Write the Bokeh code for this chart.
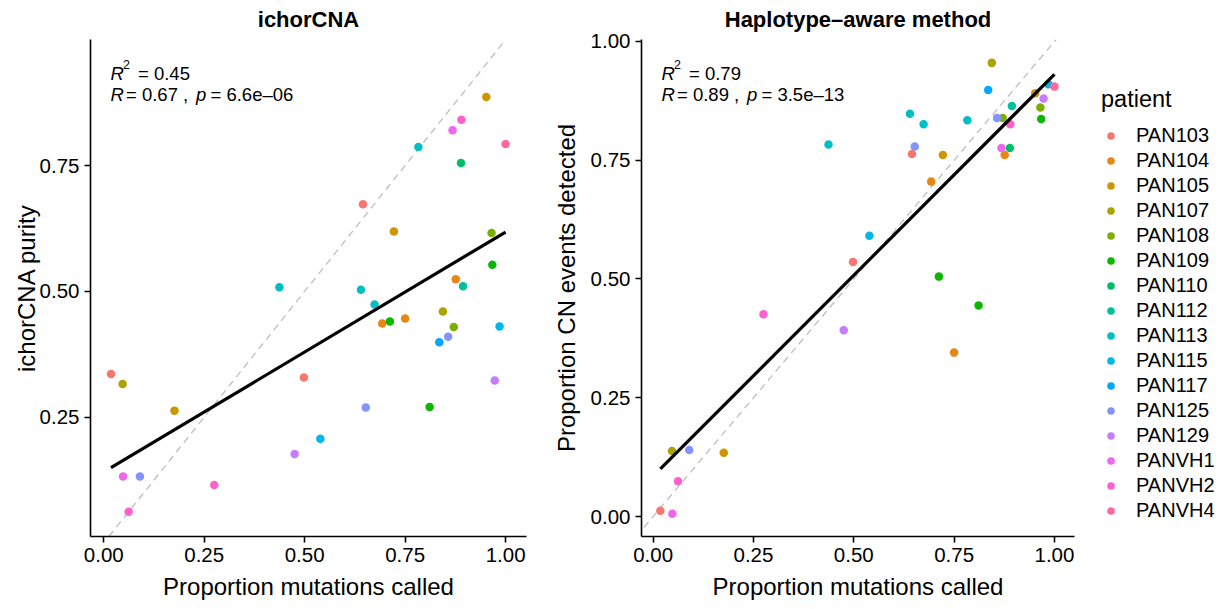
import math
import numpy as np
from bokeh.plotting import figure
from bokeh.models import Range1d, FixedTicker, Slope, Label, Legend, LegendItem, ColumnDataSource
from bokeh.layouts import row
from bokeh.embed import file_html
from bokeh.resources import INLINE

# ---------------- data ----------------
patients = ["PAN103", "PAN104", "PAN105", "PAN107", "PAN108", "PAN109", "PAN110", "PAN112",
            "PAN113", "PAN115", "PAN117", "PAN125", "PAN129", "PANVH1", "PANVH2", "PANVH4"]

sample_patient = ["PAN105", "PANVH2", "PANVH1", "PANVH4", "PAN113", "PAN110", "PAN103", "PAN105",
                  "PAN108", "PAN109", "PAN113", "PAN113", "PAN104", "PAN112", "PAN113", "PAN107",
                  "PAN104", "PAN109", "PAN104", "PAN108", "PAN115", "PAN117", "PAN125", "PAN103",
                  "PAN107", "PAN103", "PAN129", "PAN105", "PAN125", "PAN109", "PAN115", "PAN129",
                  "PANVH1", "PAN125", "PANVH2", "PANVH2"]

prop_mutations_called = [0.952, 0.890, 0.868, 1.000, 0.783, 0.889, 0.645, 0.722,
                         0.965, 0.967, 0.437, 0.640, 0.876, 0.894, 0.674, 0.844,
                         0.693, 0.712, 0.750, 0.871, 0.985, 0.835, 0.857, 0.018,
                         0.047, 0.498, 0.973, 0.176, 0.652, 0.811, 0.539, 0.475,
                         0.048, 0.090, 0.275, 0.062]

ichorcna_purity = [0.886, 0.841, 0.820, 0.793, 0.787, 0.755, 0.673, 0.619,
                   0.616, 0.553, 0.508, 0.503, 0.524, 0.510, 0.474, 0.460,
                   0.436, 0.440, 0.446, 0.429, 0.430, 0.399, 0.410, 0.336,
                   0.316, 0.329, 0.323, 0.263, 0.269, 0.270, 0.207, 0.177,
                   0.132, 0.132, 0.115, 0.062]

prop_cn_detected = [0.891, 0.826, 0.776, 0.905, 0.834, 0.776, 0.763, 0.761,
                    0.861, 0.837, 0.783, 0.848, 0.761, 0.864, 0.826, 0.955,
                    0.705, 0.505, 0.345, 0.839, 0.910, 0.898, 0.839, 0.012,
                    0.138, 0.536, 0.880, 0.134, 0.779, 0.444, 0.591, 0.392,
                    0.006, 0.140, 0.426, 0.074]

x_ticks = [0.0, 0.25, 0.5, 0.75, 1.0]
x_tick_labels = ["0.00", "0.25", "0.50", "0.75", "1.00"]
left_y_ticks = [0.25, 0.5, 0.75]
left_y_tick_labels = ["0.25", "0.50", "0.75"]
right_y_ticks = [0.0, 0.25, 0.5, 0.75, 1.0]
right_y_tick_labels = ["0.00", "0.25", "0.50", "0.75", "1.00"]

left_stats = ["0.45", "0.67", "6.6e\u201306"]
right_stats = ["0.79", "0.89", "3.5e\u201313"]

FONT = "Liberation Sans"


# ggplot2 default hue palette (hcl, c=100, l=65)
def hcl_hex(h, c=100.0, l=65.0):
    WX, WY, WZ = 95.047, 100.000, 108.883
    den = WX + 15 * WY + 3 * WZ
    un, vn = 4 * WX / den, 9 * WY / den
    hr = math.radians(h)
    U, V = c * math.cos(hr), c * math.sin(hr)
    Y = WY * ((l + 16) / 116) ** 3 if l > 7.999592 else WY * l / 903.3
    u = U / (13 * l) + un
    v = V / (13 * l) + vn
    X = 9.0 * Y * u / (4 * v)
    Z = -X / 3 - 5 * Y + 3 * Y / v

    def g(t):
        return 1.055 * t ** (1 / 2.4) - 0.055 if t > 0.00304 else 12.92 * t

    rgb = [g((3.240479 * X - 1.537150 * Y - 0.498535 * Z) / WY),
           g((-0.969256 * X + 1.875992 * Y + 0.041556 * Z) / WY),
           g((0.055648 * X - 0.204043 * Y + 1.057311 * Z) / WY)]
    rgb = [min(1.0, max(0.0, c_)) for c_ in rgb]
    return "#%02X%02X%02X" % tuple(int(round(255 * c_)) for c_ in rgb)


n_pat = len(patients)
palette = [hcl_hex(15 + 360.0 * i / n_pat) for i in range(n_pat)]
color_of = dict(zip(patients, palette))

x_arr = np.array(prop_mutations_called)


def style_axes(p, ylab_standoff):
    p.outline_line_color = None
    p.xgrid.visible = False
    p.ygrid.visible = False
    for ax in (p.xaxis[0], p.yaxis[0]):
        ax.axis_line_color = "black"
        ax.axis_line_width = 1.6
        ax.major_tick_line_color = "black"
        ax.major_tick_line_width = 1.6
        ax.major_tick_out = 6
        ax.major_tick_in = 0
        ax.minor_tick_line_color = None
        ax.major_label_text_font = FONT
        ax.major_label_text_font_size = "20.5px"
        ax.major_label_text_color = "black"
        ax.axis_label_text_font = FONT
        ax.axis_label_text_font_size = "24px"
        ax.axis_label_text_font_style = "normal"
        ax.axis_label_text_color = "black"
        ax.major_label_standoff = 5
    p.xaxis[0].axis_label_standoff = 8
    p.yaxis[0].axis_label_standoff = ylab_standoff


def add_stats(p, xr, yr, stats):
    common = dict(x=xr[0], y=yr[1], text_font=FONT, text_color="black",
                  text_baseline="alphabetic", text_align="left")
    r2, r, pv = stats
    pieces = [
        ("R", 20, -34, "18.5px", "italic"),
        ("2", 32.5, -25, "12.5px", "normal"),
        ("= " + r2, 47.5, -34, "18.5px", "normal"),
        ("R", 20, -55, "18.5px", "italic"),
        ("= " + r + " ,", 35.5, -55, "18.5px", "normal"),
        ("p", 105.5, -55, "18.5px", "italic"),
        ("= " + pv, 120, -55, "18.5px", "normal"),
    ]
    for txt, xo, yo, fs, st in pieces:
        p.add_layout(Label(text=txt, x_offset=xo, y_offset=yo, text_font_size=fs,
                           text_font_style=st, **common))


def make_panel(yvals, xr, yr, frame_w, mb_left, mb_right, ylabel, yticks, ytick_labels,
               ylab_standoff, title, stats):
    p = figure(frame_width=frame_w, frame_height=497,
               x_range=Range1d(*xr), y_range=Range1d(*yr),
               output_backend="svg", toolbar_location=None,
               min_border_left=mb_left, min_border_right=mb_right,
               min_border_top=39, min_border_bottom=70)
    p.title.text = title
    p.title.align = "center"
    p.title.vertical_align = "top"
    p.title.text_font = FONT
    p.title.text_font_size = "22px"
    p.title.text_font_style = "bold"
    p.title.text_color = "black"
    p.title.standoff = 11

    p.xaxis.ticker = FixedTicker(ticks=x_ticks)
    p.xaxis.major_label_overrides = dict(zip(x_ticks, x_tick_labels))
    p.yaxis.ticker = FixedTicker(ticks=yticks)
    p.yaxis.major_label_overrides = dict(zip(yticks, ytick_labels))
    p.xaxis.axis_label = "Proportion mutations called"
    p.yaxis.axis_label = ylabel
    style_axes(p, ylab_standoff)

    p.add_layout(Slope(gradient=1, y_intercept=0, line_color="#BEBEBE",
                       line_dash="7 5", line_width=1.3, level="underlay"))

    y_arr = np.array(yvals)
    renderers = {}
    for pt in patients:
        idx = [i for i, s in enumerate(sample_patient) if s == pt]
        src = ColumnDataSource(dict(x=x_arr[idx], y=y_arr[idx]))
        renderers[pt] = p.scatter("x", "y", source=src, size=8.5, marker="circle",
                                  fill_color=color_of[pt], line_color=None)

    slope, intercept = np.polyfit(x_arr, y_arr, 1)
    xs = np.array([x_arr.min(), x_arr.max()])
    p.line(xs, slope * xs + intercept, line_color="black", line_width=3.2)

    add_stats(p, xr, yr, stats)
    return p, renderers


left_xr = (-0.033, 1.052)
left_yr = (0.0129, 1.0004)
right_xr = (-0.029, 1.05)
right_yr = (-0.0421, 1.0042)

p1, _ = make_panel(ichorcna_purity, left_xr, left_yr, 436, 90, 5, "ichorCNA purity",
                   left_y_ticks, left_y_tick_labels, -3, "ichorCNA", left_stats)
p2, rends = make_panel(prop_cn_detected, right_xr, right_yr, 433, 110, 143,
                       "Proportion CN events detected", right_y_ticks, right_y_tick_labels,
                       8, "Haplotype\u2013aware method", right_stats)

legend = Legend(items=[LegendItem(label=pt, renderers=[rends[pt]]) for pt in patients],
                location=(27, 13))
legend.title = "patient"
legend.title_text_font = FONT
legend.title_text_font_size = "23.5px"
legend.title_text_font_style = "normal"
legend.title_text_color = "black"
legend.title_standoff = 10
legend.label_text_font = FONT
legend.label_text_font_size = "20px"
legend.label_text_color = "black"
legend.glyph_width = 19
legend.glyph_height = 25
legend.label_height = 25
legend.label_standoff = 16
legend.spacing = 0
legend.padding = 0
legend.margin = 0
legend.border_line_color = None
legend.background_fill_alpha = 0
p2.add_layout(legend, "right")

layout = row(p1, p2)
open("out.html", "w").write(file_html(layout, INLINE))
